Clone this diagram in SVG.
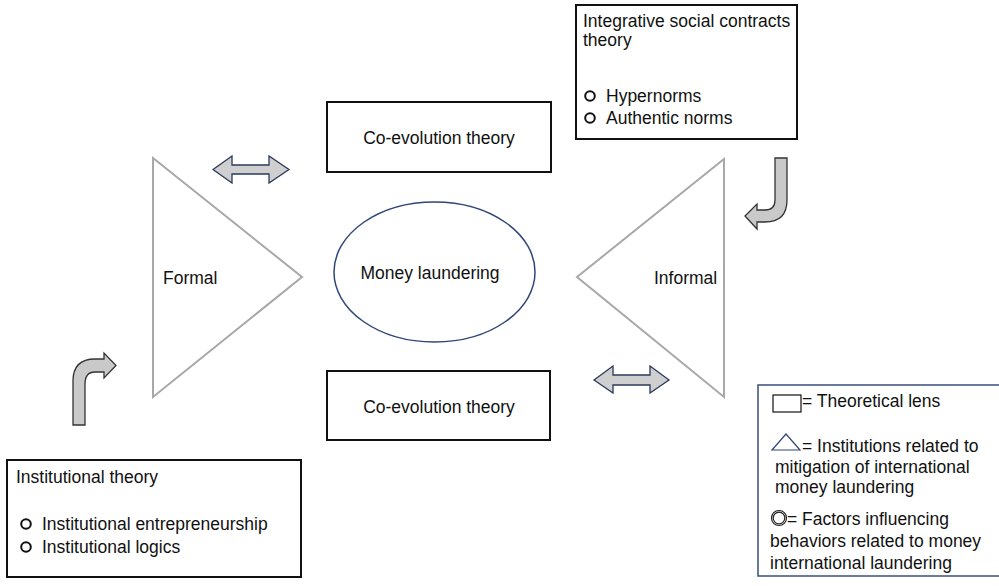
<svg xmlns="http://www.w3.org/2000/svg" width="999" height="586" viewBox="0 0 999 586">
  <style>
    text { font-family: "Liberation Sans", Arial, sans-serif; font-size: 17.5px; fill: #111; }
    .lens { fill: #fff; stroke: #111; stroke-width: 2; }
    .inst { fill: #fff; stroke: #a8a8a8; stroke-width: 2; }
    .factor { fill: #fff; stroke: #2f4676; stroke-width: 1.5; }
    .dbl { fill: #cfcfcf; stroke: #2b3a5c; stroke-width: 1.3; stroke-linejoin: miter; }
    .bent { fill: #c9c9c9; stroke: #333; stroke-width: 1.3; stroke-linejoin: miter; }
    .bullet { fill: none; stroke: #111; stroke-width: 2; }
    .mid { text-anchor: middle; dominant-baseline: central; }
  </style>

  <!-- Theoretical lens boxes -->
  <g id="coevolution-top">
    <rect class="lens" x="327" y="102" width="224" height="70"/>
    <text class="mid" x="439" y="138">Co-evolution theory</text>
  </g>
  <g id="coevolution-bottom">
    <rect class="lens" x="327" y="371" width="223" height="69"/>
    <text class="mid" x="439" y="407">Co-evolution theory</text>
  </g>

  <g id="isct">
    <rect class="lens" x="576" y="5" width="221" height="134"/>
    <text x="583" y="27">Integrative social contracts</text>
    <text x="583" y="46">theory</text>
    <circle class="bullet" cx="590" cy="96" r="4.8"/>
    <text x="606" y="102">Hypernorms</text>
    <circle class="bullet" cx="590" cy="118" r="4.8"/>
    <text x="606" y="124">Authentic norms</text>
  </g>

  <g id="institutional-theory">
    <rect class="lens" x="7" y="460" width="294" height="117"/>
    <text x="16" y="483">Institutional theory</text>
    <circle class="bullet" cx="26" cy="524" r="4.8"/>
    <text x="42" y="530">Institutional entrepreneurship</text>
    <circle class="bullet" cx="26" cy="547" r="4.8"/>
    <text x="42" y="553">Institutional logics</text>
  </g>

  <!-- Institutions -->
  <g id="formal">
    <polygon class="inst" points="153,158 302,277 153,397"/>
    <text x="163" y="284">Formal</text>
  </g>
  <g id="informal">
    <polygon class="inst" points="724,159 577,277 724,397"/>
    <text x="654" y="284">Informal</text>
  </g>

  <!-- Central factor -->
  <g id="money-laundering">
    <ellipse class="factor" cx="434.5" cy="272" rx="100.5" ry="70"/>
    <text class="mid" x="430" y="273">Money laundering</text>
  </g>

  <!-- Connectors -->
  <g id="connectors">
    <path class="dbl" d="M213,169.5 L232,156 L232,165 L269,165 L269,156 L289,169.5 L269,183 L269,174 L232,174 L232,183 Z"/>
    <path class="dbl" d="M594,380 L613,366 L613,375 L650,375 L650,366 L669,380 L650,393 L650,385 L613,385 L613,393 Z"/>
    <path class="bent" d="M775,158 L787,158 L787,200 Q787,222 765,222 L757,222 L757,229 L745,216 L757,204 L757,210 L765,210 Q775,210 775,200 Z"/>
    <path class="bent" d="M73,425 L73,381 Q73,359 95,359 L104,359 L104,353 L116,365.5 L104,378 L104,372 L95,372 Q85,372 85,384 L85,425 Z"/>
  </g>

  <!-- Legend -->
  <g id="legend">
    <rect x="758" y="385" width="250" height="191" fill="#fff" stroke="#3a4f7a" stroke-width="1.5"/>
    <rect x="773" y="395" width="28" height="17" fill="#fff" stroke="#111" stroke-width="1.2"/>
    <text x="802" y="407">= Theoretical lens</text>
    <polygon points="772,450 786,434 800,450" fill="#fff" stroke="#2f4676" stroke-width="1.2"/>
    <text x="802" y="452">= Institutions related to</text>
    <text x="775" y="473">mitigation of international</text>
    <text x="775" y="493">money laundering</text>
    <circle cx="779" cy="518" r="7.5" fill="#fff" stroke="#222" stroke-width="1.2"/>
    <circle cx="779" cy="518" r="5.8" fill="none" stroke="#222" stroke-width="1.2"/>
    <text x="787" y="525">= Factors influencing</text>
    <text x="770" y="547">behaviors related to money</text>
    <text x="770" y="569">international laundering</text>
  </g>
</svg>
